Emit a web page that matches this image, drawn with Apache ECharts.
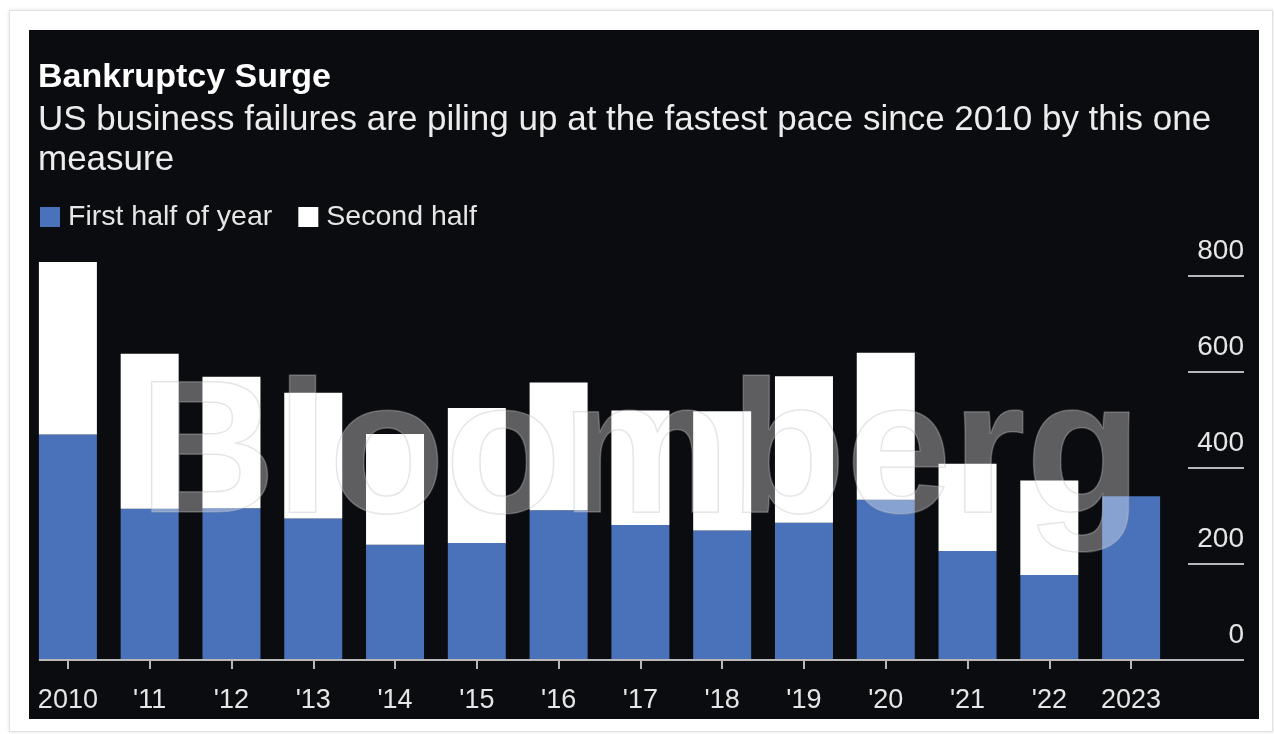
<!DOCTYPE html>
<html>
<head>
<meta charset="utf-8">
<script src="https://cdn.jsdelivr.net/npm/echarts@6/dist/echarts.min.js"></script>
<style>
  html, body { margin: 0; padding: 0; background: #ffffff; width: 1274px; height: 734px; overflow: hidden; }
  #card { position: absolute; left: 9px; top: 10px; width: 1262px; height: 720px; border: 1px solid #e2e2e2; box-shadow: 0 0 4px rgba(0,0,0,0.12); background: #fff; }
  #panel { position: absolute; left: 29px; top: 30px; width: 1230px; height: 689px; background: #0b0c0f; }
  #chart { position: absolute; left: 0; top: 0; width: 1274px; height: 734px; }
</style>
</head>
<body>
<div id="card"></div>
<div id="panel"></div>
<div id="chart"></div>
<script>
const categories = ['2010', "'11", "'12", "'13", "'14", "'15", "'16", "'17", "'18", "'19", "'20", "'21", "'22", '2023'];
const firstHalf  = [470, 315, 316, 295, 240, 244, 312, 281, 270, 286, 334, 227, 177, 341];
const secondHalf = [359, 323, 274, 262, 231, 281, 266, 239, 248, 305, 306, 182, 197, null];
const yMin = 0, yMax = 800, yInterval = 200;
const seriesNames = ['First half of year', 'Second half'];

const FONT = '"Liberation Sans", Arial, Helvetica, sans-serif';
const BLUE = '#4a72ba';
const LABEL = '#e6e6e6';
const RULE = '#b8b8b8';
const BAR_W = 58;

const chart = echarts.init(document.getElementById('chart'), null, { renderer: 'canvas' });

const option = {
  backgroundColor: 'transparent',
  animation: false,
  textStyle: { fontFamily: FONT },
  title: {
    left: 33, top: 53,
    text: 'Bankruptcy Surge',
    subtext: 'US business failures are piling up at the fastest pace since 2010 by this one\nmeasure',
    itemGap: 2,
    textStyle: { color: '#ffffff', fontSize: 34, fontWeight: 'bold', fontFamily: FONT, lineHeight: 40 },
    subtextStyle: { color: '#ececec', fontSize: 35, fontFamily: FONT, lineHeight: 40 }
  },
  legend: {
    left: 35, top: 197,
    itemWidth: 20, itemHeight: 20, itemGap: 26,
    icon: 'rect',
    data: seriesNames,
    textStyle: { color: LABEL, fontSize: 28.5, fontFamily: FONT, lineHeight: 30, padding: [0, 0, 0, 3] }
  },
  grid: { left: 27, right: 102, top: 276, bottom: 74 },
  xAxis: {
    type: 'category',
    data: categories,
    axisLine: { show: false },
    axisTick: { show: true, alignWithLabel: true, length: 9, lineStyle: { color: RULE, width: 2 } },
    axisLabel: { color: LABEL, fontSize: 27, fontFamily: FONT, margin: 27 }
  },
  yAxis: {
    type: 'value',
    position: 'right',
    offset: 72,
    min: yMin, max: yMax, interval: yInterval,
    splitLine: { show: false },
    axisLine: { show: false },
    axisTick: { show: true, inside: true, length: 56, lineStyle: { color: RULE, width: 2 } },
    axisLabel: { inside: true, margin: 0, color: LABEL, fontSize: 28, fontFamily: FONT, verticalAlign: 'bottom', padding: [0, 0, 11, 0] }
  },
  series: [
    { name: seriesNames[0], type: 'bar', stack: 'total', clip: false, data: firstHalf, barWidth: BAR_W, itemStyle: { color: BLUE } },
    { name: seriesNames[1], type: 'bar', stack: 'total', clip: false, data: secondHalf, barWidth: BAR_W, itemStyle: { color: '#ffffff' } }
  ]
};
chart.setOption(option);

const y0 = chart.convertToPixel({ yAxisIndex: 0 }, 0);
const xFirst = chart.convertToPixel({ xAxisIndex: 0 }, 0) - BAR_W / 2;
const gridRect = chart.getModel().getComponent('grid').coordinateSystem.getRect();
const xEnd = gridRect.x + gridRect.width + 72;

chart.setOption({
  graphic: [
    { type: 'line', z: 50, silent: true, shape: { x1: xFirst, y1: y0, x2: xEnd, y2: y0 }, style: { stroke: RULE, lineWidth: 2 } },
    { type: 'text', z: 100, silent: true, x: 139, y: 365,
      style: { text: 'Bloomberg', font: 'bold 190px ' + FONT, fill: 'rgba(255,255,255,0.34)', stroke: 'rgba(170,170,170,0.35)', lineWidth: 1.5, textVerticalAlign: 'top' } }
  ]
});
</script>
</body>
</html>
